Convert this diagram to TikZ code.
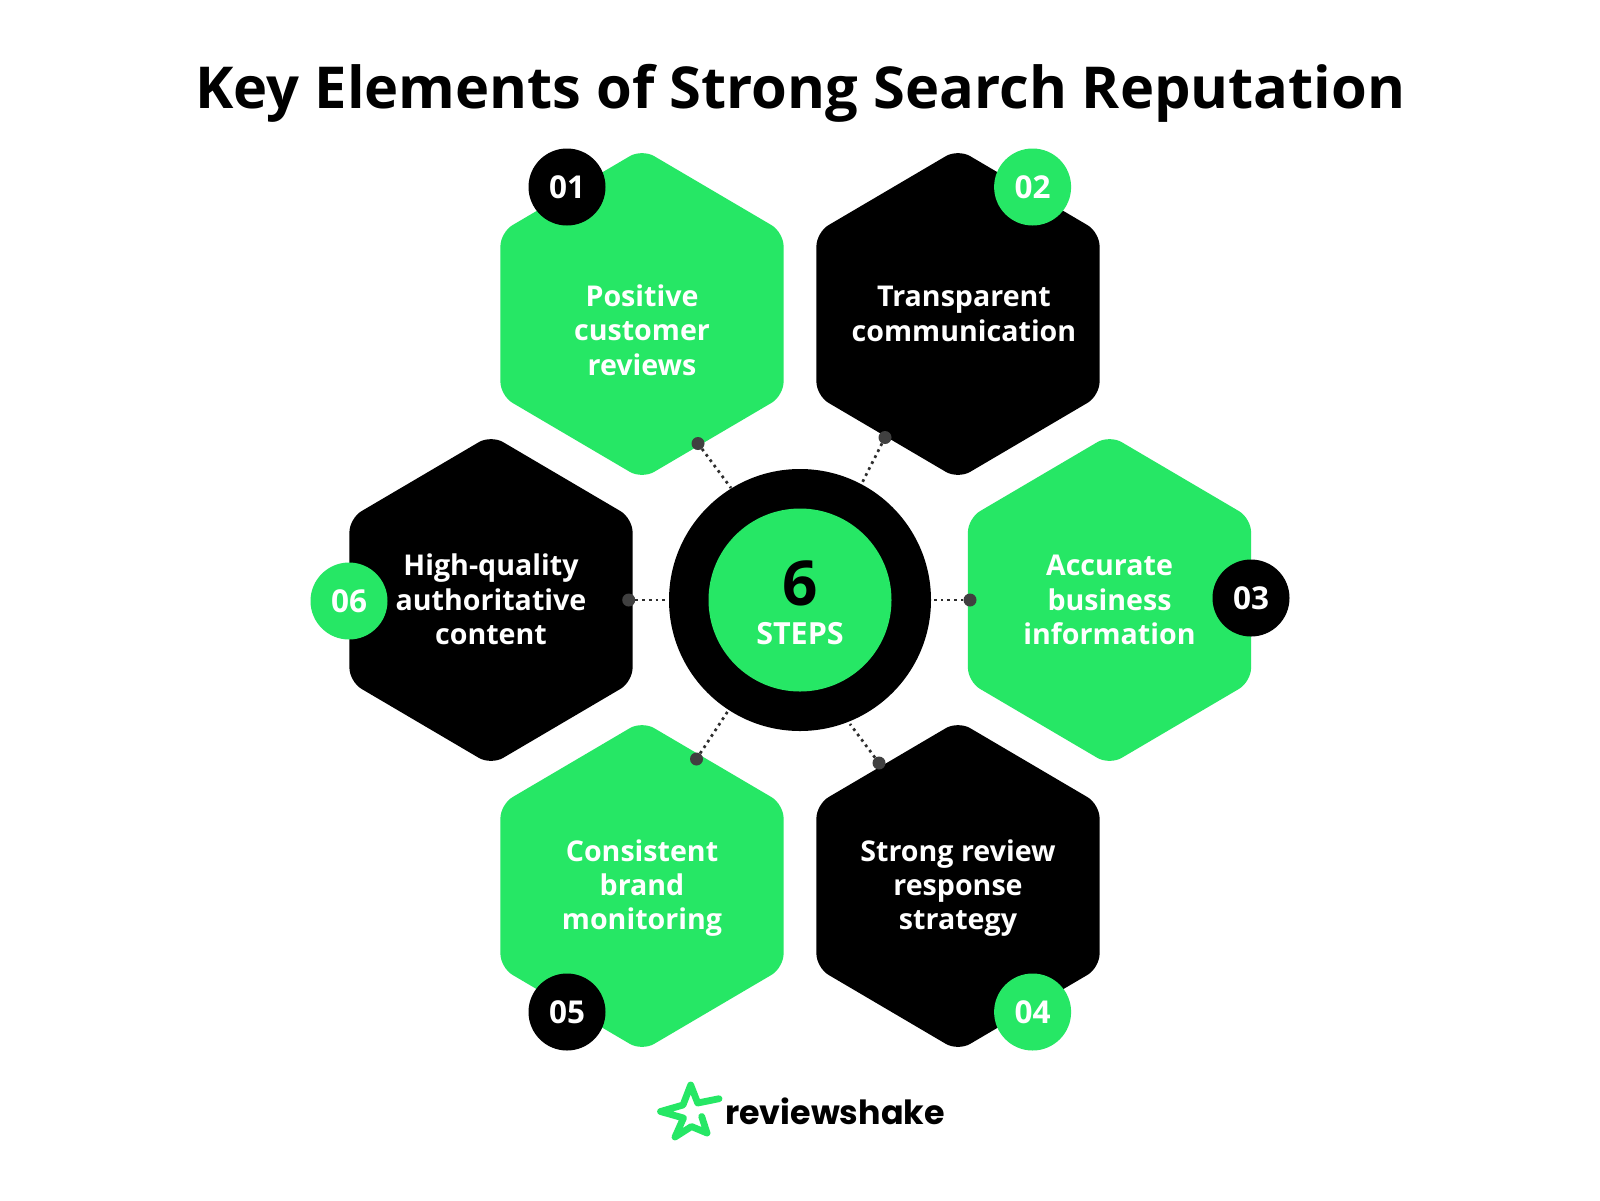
\documentclass[tikz,border=0pt]{standalone}
\usepackage{fontspec}
\setmainfont{Open Sans}[BoldFont={Open Sans Bold}]
\newfontfamily\logofont{Poppins}[BoldFont={Poppins Bold}]
\definecolor{brand}{HTML}{26E765}
\definecolor{pin}{HTML}{404040}
\tikzset{
  hexa/.style={rounded corners=14pt},
  hexlabel/.style={align=center,text=white,font=\fontsize{28.6}{34.4}\selectfont\bfseries},
  badge/.style={circle,minimum size=77pt,inner sep=0pt,font=\fontsize{31.5}{31.5}\selectfont\bfseries},
  pindot/.style={circle,fill=pin,minimum size=13pt,inner sep=0pt},
  link/.style={line width=2.7pt,dash pattern=on 2.7pt off 4pt,pin!70!black},
}
\newcommand{\hexshape}[3]{%
  \fill[hexa,#3] (#1,#2-165) -- (#1+141.6,#2-81.75) -- (#1+141.6,#2+81.75) -- (#1,#2+165) -- (#1-141.6,#2+81.75) -- (#1-141.6,#2-81.75) -- cycle;}
\begin{document}
\begin{tikzpicture}[x=1pt,y=-1pt]
\useasboundingbox (0,0) rectangle (1600,1200);
\fill[white] (0,0) rectangle (1600,1200);
\node[anchor=base,font=\fontsize{57.8}{58}\selectfont\bfseries] (title) at (800.5,108) {Key Elements of Strong Search Reputation};
\hexshape{642}{314}{brand}
\hexshape{958}{314}{black}
\hexshape{1109.5}{600}{brand}
\hexshape{958}{886}{black}
\hexshape{642}{886}{brand}
\hexshape{491}{600}{black}
\node[hexlabel] (t1) at (642,330) {Positive\\customer\\reviews};
\node[hexlabel] (t2) at (964,314) {Transparent\\communication};
\node[hexlabel] (t3) at (1109.5,600) {Accurate\\business\\information};
\node[hexlabel] (t4) at (958,888) {Strong review\\response\\strategy};
\node[hexlabel] (t5) at (642,888) {Consistent\\brand\\monitoring};
\node[hexlabel] (t6) at (491,599.5) {High-quality\\authoritative\\content};
\node[circle,fill=black,minimum size=262pt,inner sep=0pt] (outer) at (800,600) {};
\node[circle,fill=brand,minimum size=183pt,inner sep=0pt] (inner) at (800,600) {};
\node[font=\fontsize{62}{62}\selectfont\bfseries] (six) at (800,583) {6};
\node[font=\fontsize{30.5}{30.5}\selectfont\bfseries,text=white] (steps) at (800,634) {STEPS};
\node[pindot] (p1) at (698,443.5) {};
\node[pindot] (p2) at (885,437.5) {};
\node[pindot] (p3) at (970,600) {};
\node[pindot] (p4) at (879,763) {};
\node[pindot] (p5) at (696.5,759) {};
\node[pindot] (p6) at (628.7,600) {};
\coordinate (e1) at (731,488);
\coordinate (e2) at (862,483);
\coordinate (e3) at (933,600);
\coordinate (e4) at (850,724);
\coordinate (e5) at (728,711);
\coordinate (e6) at (668,600);
\draw[link] (p1) -- (e1);
\draw[link] (p2) -- (e2);
\draw[link] (p3) -- (e3);
\draw[link] (p4) -- (e4);
\draw[link] (p5) -- (e5);
\draw[link] (p6) -- (e6);
\node[badge,fill=black,text=white] (b1) at (567,187) {01};
\node[badge,fill=brand,text=white] (b2) at (1032.6,187) {02};
\node[badge,fill=black,text=white] (b3) at (1251,598) {03};
\node[badge,fill=brand,text=white] (b4) at (1032.6,1012) {04};
\node[badge,fill=black,text=white] (b5) at (567,1012) {05};
\node[badge,fill=brand,text=white] (b6) at (349,601) {06};
\draw[brand,line width=6.8pt,line cap=round,line join=round]
  (719,1098.7) -- (697.7,1103) -- (690.7,1085) -- (683,1105) -- (660.5,1111.5) -- (683.5,1118) -- (675,1137) -- (691.5,1126.5) -- (707,1133) -- (701.7,1116.5);
\node[anchor=base west,inner sep=0pt,font=\logofont\fontsize{33.3}{33}\selectfont\bfseries] (logo) at (725,1124) {reviewshake};
\end{tikzpicture}
\end{document}
